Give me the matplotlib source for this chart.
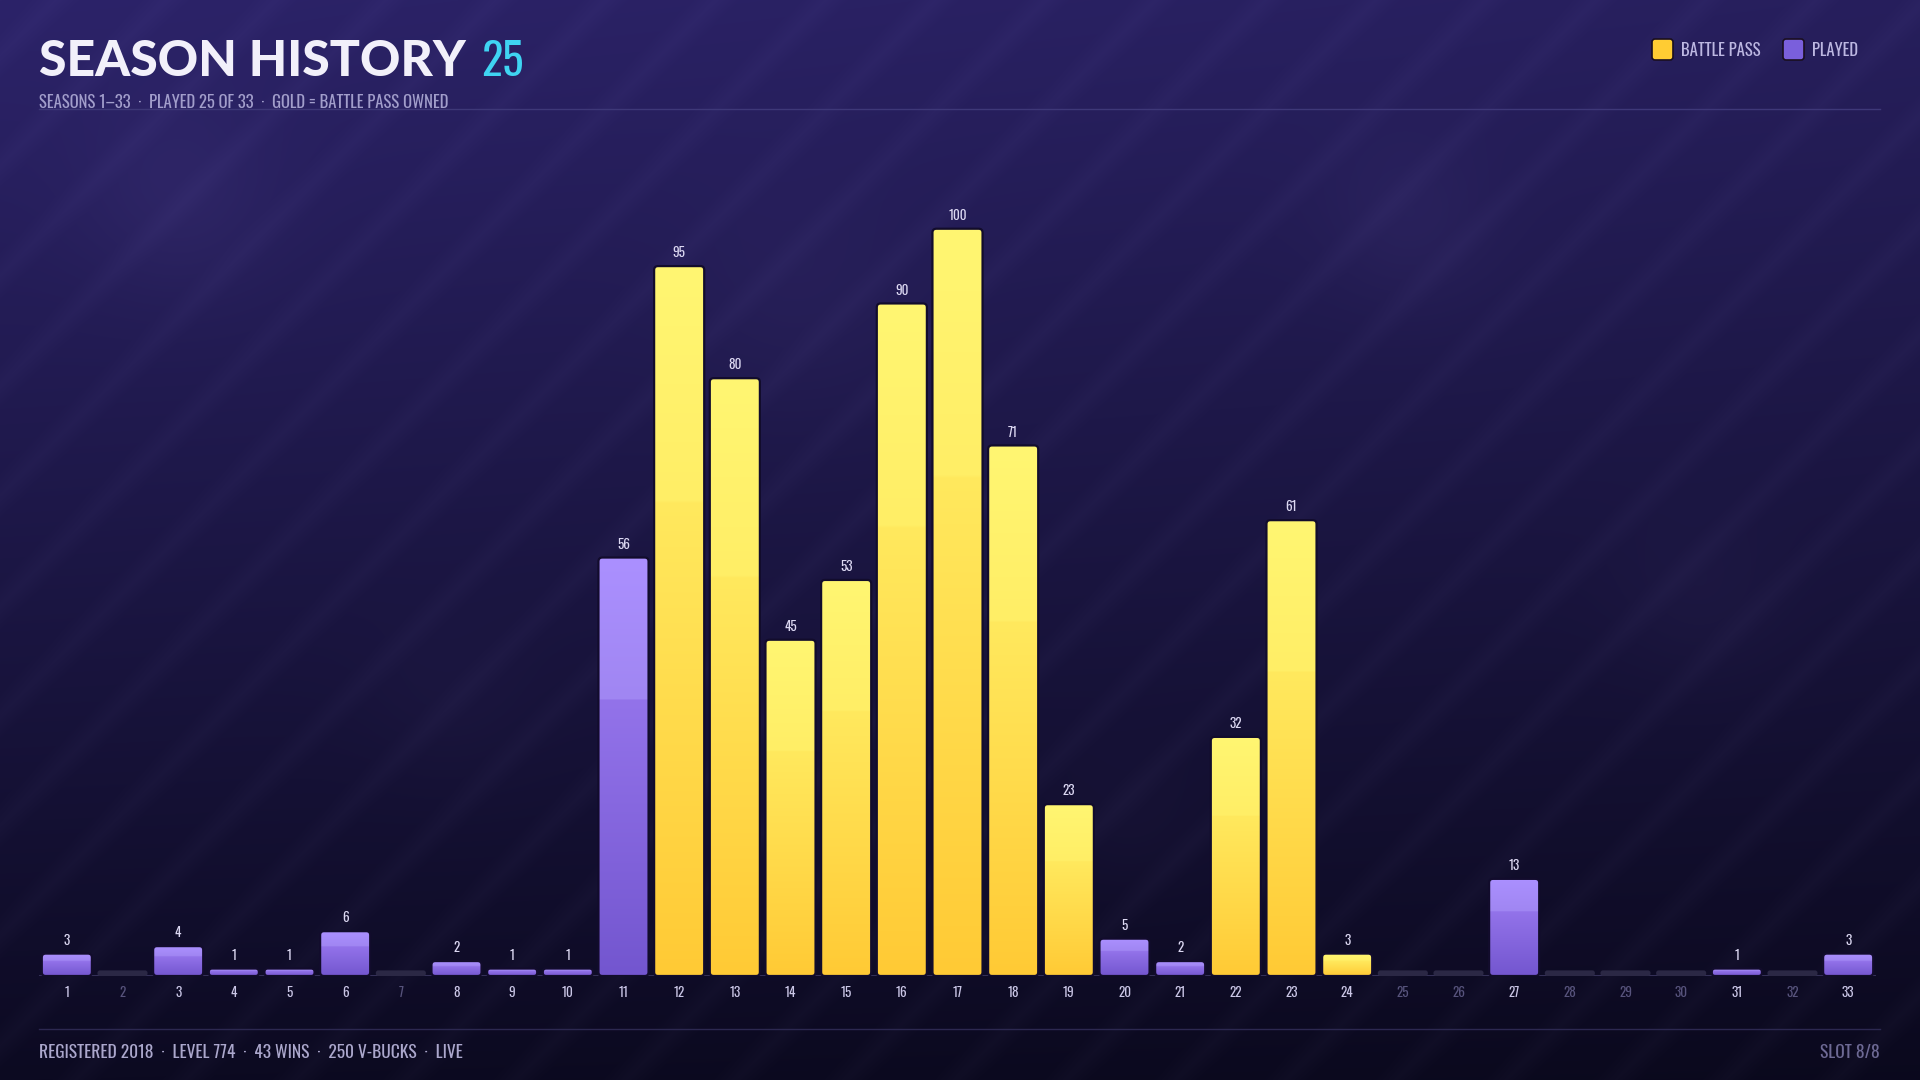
import numpy as np
import matplotlib
matplotlib.use("Agg")
import matplotlib.pyplot as plt
from matplotlib import font_manager as fm
from matplotlib.patches import FancyBboxPatch
from matplotlib.colors import to_rgb

# ---------------- data ----------------
seasons = list(range(1, 34))
values = [3, 0, 4, 1, 1, 6, 0, 2, 1, 1, 56, 95, 80, 45, 53, 90, 100, 71, 23, 5,
          2, 32, 61, 3, 0, 0, 13, 0, 0, 0, 1, 0, 3]
battle_pass = [0, 0, 0, 0, 0, 0, 0, 0, 0, 0, 0, 1, 1, 1, 1, 1, 1, 1, 1, 0,
               0, 1, 1, 1, 0, 0, 0, 0, 0, 0, 0, 0, 0]
played = [1 if v > 0 else 0 for v in values]
tick_labels = [str(s) for s in seasons]

title = "SEASON HISTORY"
title_num = "25"
subtitle = "SEASONS 1–33  ·  PLAYED 25 OF 33  ·  GOLD = BATTLE PASS OWNED"
footer_left = "REGISTERED 2018  ·  LEVEL 774  ·  43 WINS  ·  250 V-BUCKS  ·  LIVE"
footer_right = "SLOT 8/8"
legend_labels = ["BATTLE PASS", "PLAYED"]

# ---------------- fonts ----------------
def find_cond():
    fl = fm.fontManager.ttflist
    def ok(f):
        n = (f.fname).lower()
        return ("italic" not in n) and ("oblique" not in n)
    prefs = [
        lambda f: "oswald" in f.fname.lower() and f.weight in (400, "normal", "regular"),
        lambda f: "oswald" in f.fname.lower(),
        lambda f: "robotocondensed-regular" in f.fname.lower().replace("_", "").replace(" ", ""),
        lambda f: "notosans-extracondensed.ttf" in f.fname.lower(),
        lambda f: "notosans-condensed.ttf" in f.fname.lower(),
        lambda f: "extracondensed" in f.fname.lower() and "bold" not in f.fname.lower()
                  and "light" not in f.fname.lower() and "thin" not in f.fname.lower()
                  and "black" not in f.fname.lower(),
        lambda f: "narrow" in f.fname.lower() and "bold" not in f.fname.lower(),
        lambda f: "condensed" in f.fname.lower() and "bold" not in f.fname.lower()
                  and "light" not in f.fname.lower() and "thin" not in f.fname.lower(),
    ]
    for p in prefs:
        for f in fl:
            if ok(f) and p(f):
                return f.fname
    return None

cond_path = find_cond()
if cond_path:
    def CP(size):
        return fm.FontProperties(fname=cond_path, size=size)
else:
    def CP(size):
        return fm.FontProperties(family="DejaVu Sans", stretch="condensed", size=size * 0.85)

HEAVY = ["Lato", "DejaVu Sans"]

W, H = 1920, 1080
fig = plt.figure(figsize=(W / 100, H / 100), dpi=100)

# ---------------- background ----------------
yy, xx = np.mgrid[0:H, 0:W].astype(float)
top = np.array(to_rgb("#2c2369"))
bot = np.array(to_rgb("#0c0a21"))
t = np.clip(yy / H, 0, 1) ** 1.05
bg = top[None, None, :] * (1 - t[..., None]) + bot[None, None, :] * t[..., None]
bg *= (1 - 0.12 * (xx / W))[..., None]
phase = np.mod(xx + yy, 110.0)
stripe = np.clip(1 - np.abs(phase - 55) / 24, 0, 1)
bg += (stripe * 0.022)[..., None] * np.array([0.8, 0.75, 1.0])
for cx, cy, r, a in [(180, 200, 70, 0.035), (1410, 225, 60, 0.03), (800, 300, 80, 0.02),
                     (1700, 600, 60, 0.02), (450, 700, 60, 0.015), (1130, 820, 50, 0.015)]:
    d = np.exp(-((xx - cx) ** 2 + (yy - cy) ** 2) / (2 * r ** 2))
    bg += (d * a)[..., None] * np.array([0.8, 0.7, 1.0])
bg = np.clip(bg, 0, 1)
bgax = fig.add_axes([0, 0, 1, 1], zorder=-10)
bgax.imshow(bg, extent=[0, W, H, 0], aspect="auto", interpolation="bilinear")
bgax.set_xlim(0, W)
bgax.set_ylim(H, 0)
bgax.axis("off")

ov = fig.add_axes([0, 0, 1, 1], zorder=5)
ov.set_xlim(0, W)
ov.set_ylim(H, 0)
ov.axis("off")

ov.text(39, 76, title, fontsize=36, fontweight="black", family=HEAVY,
        color="#f2f0fa", va="baseline", ha="left")
ov.text(481, 76, title_num, fontproperties=CP(32), color="#3fd4f2",
        va="baseline", ha="left")
ov.text(39, 108, subtitle, fontproperties=CP(12), color="#a29ecb",
        va="baseline", ha="left")
ov.plot([39, 1880], [108.5, 108.5], color="#3e3878", lw=1.0, zorder=0)

leg_colors = ["#ffcc33", "#7a5fdc"]
leg_x = [1652, 1783]
for lx, lab, c in zip(leg_x, legend_labels, leg_colors):
    ov.add_patch(FancyBboxPatch((lx, 39), 21, 21, boxstyle="round,pad=0,rounding_size=3",
                                facecolor=c, edgecolor="#1a0f20", lw=1.2))
    ov.text(lx + 29, 51, lab, fontproperties=CP(12), color="#bdb8e2",
            va="center", ha="left")

ov.plot([39, 1880], [1029, 1029], color="#2c2850", lw=1.0)
ov.text(39, 1053, footer_left, fontproperties=CP(12.5), color="#aba7cc",
        va="center", ha="left")
ov.text(1880, 1053, footer_right, fontproperties=CP(12.5), color="#6d6994",
        va="center", ha="right")

# ---------------- chart ----------------
ax_left, ax_right = 39, 1876
ax_base, ax_top = 976, 154
ymax = 110.0
ax = fig.add_axes([ax_left / W, 1 - ax_base / H, (ax_right - ax_left) / W,
                   (ax_base - ax_top) / H], zorder=2)
ax.set_facecolor("none")
for s in ax.spines.values():
    s.set_visible(False)

px_per_x = (ax_right - ax_left) / 33.0
px_per_y = (ax_base - ax_top) / ymax
aspect = px_per_x / px_per_y
bw = 0.9


def grad_img(kind):
    n = 256
    g = np.linspace(0, 1, n)[:, None]
    if kind == "bp":
        c_top = np.array(to_rgb("#fff672"))
        c_a = np.array(to_rgb("#ffee66"))
        c_b = np.array(to_rgb("#ffe95e"))
        c_bot = np.array(to_rgb("#ffca35"))
        col = np.where(g < 0.33, c_top + (c_a - c_top) * (g / 0.33),
                       c_b + (c_bot - c_b) * ((g - 0.33) / 0.67))
    else:
        c_top = np.array(to_rgb("#ab90ff"))
        c_a = np.array(to_rgb("#a086f2"))
        c_b = np.array(to_rgb("#9373ea"))
        c_bot = np.array(to_rgb("#7356cf"))
        col = np.where(g < 0.34, c_top + (c_a - c_top) * (g / 0.34),
                       c_b + (c_bot - c_b) * ((g - 0.34) / 0.66))
    return col[:, None, :]


for s, v, bp, pl in zip(seasons, values, battle_pass, played):
    x0 = s - bw / 2
    if not pl:
        h = 0.75
        r = min(0.05, h / aspect / 2.2)
        ax.add_patch(FancyBboxPatch((x0, 0), bw, h,
                                    boxstyle=f"round,pad=0,rounding_size={r}",
                                    mutation_aspect=aspect, facecolor="#2b2845",
                                    edgecolor="none", zorder=2))
        continue
    h = v
    r = min(0.07, h / aspect / 2.2)
    patch = FancyBboxPatch((x0, 0), bw, h, boxstyle=f"round,pad=0,rounding_size={r}",
                           mutation_aspect=aspect, facecolor="none",
                           edgecolor="#120c2c", lw=1.6, zorder=4)
    ax.add_patch(patch)
    im = ax.imshow(grad_img("bp" if bp else "pl"), extent=[x0, x0 + bw, 0, h],
                   aspect="auto", interpolation="bilinear", zorder=3, origin="upper")
    im.set_clip_path(patch)
    ax.text(s, h + 0.9, str(v), ha="center", va="bottom", fontproperties=CP(9.5),
            color="#dcd8f2", zorder=5)

ax.set_xlim(0.5, 33.5)
ax.set_ylim(0, ymax)
ax.axhline(0.05, color="#3c3862", lw=1.2, zorder=1)
ax.set_yticks([])
ax.set_xticks(seasons)
ax.set_xticklabels(tick_labels)
ax.tick_params(axis="x", length=0, pad=7)
for lab, pl in zip(ax.get_xticklabels(), played):
    lab.set_fontproperties(CP(9.5))
    lab.set_color("#cac6e6" if pl else "#57537c")

fig.savefig("out.png", dpi=100)
